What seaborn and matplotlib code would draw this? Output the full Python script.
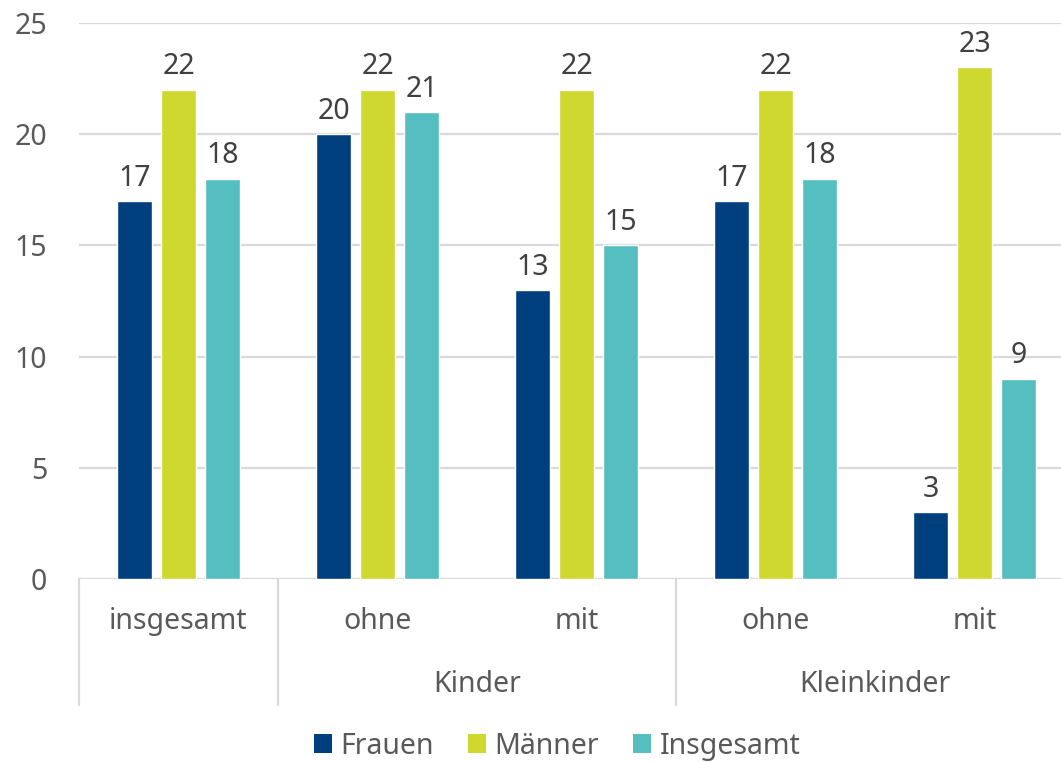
import matplotlib
matplotlib.use("Agg")
import matplotlib.pyplot as plt
import seaborn as sns
import pandas as pd
from matplotlib.patches import Patch

# ---- data ----
category_keys = ["insgesamt", "Kinder ohne", "Kinder mit", "Kleinkinder ohne", "Kleinkinder mit"]
category_labels = ["insgesamt", "ohne", "mit", "ohne", "mit"]
group_labels = ["Kinder", "Kleinkinder"]
group_centers = [1.5, 3.5]
separators = [-0.5, 0.5, 2.5]
series = ["Frauen", "Männer", "Insgesamt"]
frauen = [17, 20, 13, 17, 3]
maenner = [22, 22, 22, 22, 23]
insgesamt = [18, 21, 15, 18, 9]
colors = ["#003F7E", "#CFD82E", "#55BEC0"]
yticks = [0, 5, 10, 15, 20, 25]

rows = []
for name, vals in zip(series, [frauen, maenner, insgesamt]):
    for k, v in zip(category_keys, vals):
        rows.append({"Kategorie": k, "Serie": name, "Wert": v})
df = pd.DataFrame(rows)

sns.set_theme(style="white")
plt.rcParams["font.family"] = ["Noto Sans", "DejaVu Sans"]

FS = 20.5

fig = plt.figure(figsize=(10.61, 7.63), dpi=100)
ax = fig.add_axes([0.0745, 0.2412, 0.9255, 0.7287])

sns.barplot(data=df, x="Kategorie", y="Wert", hue="Serie", order=category_keys,
            hue_order=series, palette=colors, width=0.663, gap=0.2,
            saturation=1, ax=ax, legend=False, errorbar=None)

ax.set_xlim(-0.5, 4.434)
ax.set_ylim(0, 25)
ax.set_yticks(yticks)
ax.set_yticklabels([str(t) for t in yticks], fontsize=FS, color="#595959")
ax.tick_params(axis="y", length=0, pad=23)
ax.set_xticks([])
ax.set_xlabel("")
ax.set_ylabel("")
for s in ax.spines.values():
    s.set_visible(False)
ax.grid(False)
for t in yticks:
    ax.axhline(t, color="#D9D9D9", lw=1.6, zorder=0)

for cont in ax.containers:
    ax.bar_label(cont, padding=6, fontsize=FS, color="#404040")

trans = ax.get_xaxis_transform()
for i, lab in enumerate(category_labels):
    ax.text(i, -0.0773, lab, transform=trans, ha="center", va="center",
            fontsize=FS, color="#595959")
for c, lab in zip(group_centers, group_labels):
    ax.text(c, -0.1906, lab, transform=trans, ha="center", va="center",
            fontsize=FS, color="#595959")
for x in separators:
    ax.plot([x, x], [0, -0.2266], transform=trans, color="#D9D9D9", lw=1.6,
            clip_on=False)

handles = [Patch(facecolor=c, edgecolor="none") for c in colors]
fig.legend(handles, series, loc="center", bbox_to_anchor=(0.525, 0.022), ncol=3,
           frameon=False, fontsize=FS, handlelength=0.63, handleheight=0.63,
           handletextpad=0.3, columnspacing=1.2, labelcolor="#595959")

fig.savefig("out.png", dpi=100)
